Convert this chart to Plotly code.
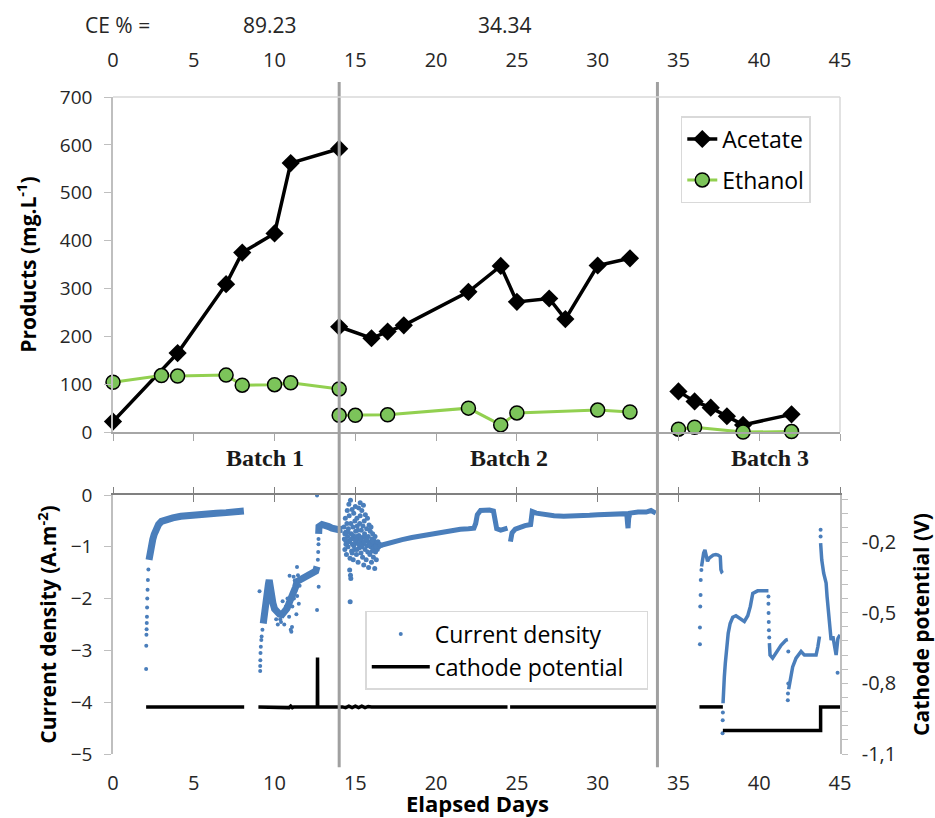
import plotly.graph_objects as go

# ---------------- data : products (top panel) ----------------
ac_day = [0, 4, 7, 8, 10, 11, 14, None, 14, 16, 17, 18, 22, 24, 25, 27, 28, 30, 32, None, 35, 36, 37, 38, 39, 42]
ac_val = [22, 165, 309, 375, 415, 562, 592, None, 220, 196, 210, 223, 293, 347, 272, 279, 236, 348, 363, None, 85, 64, 51, 33, 15, 37]
et_day = [0, 3, 4, 7, 8, 10, 11, 14, None, 14, 15, 17, 22, 24, 25, 30, 32, None, 35, 36, 39, 42]
et_val = [104, 118, 117, 119, 98, 99, 103, 90, None, 35, 35, 36, 50, 15, 40, 46, 42, None, 6, 10, 0, 1]

# ---------------- data : current density (bottom panel) ----------------
# dense band, batch 1
cd1_day = [2.23, 2.28, 2.34, 2.40, 2.46, 2.55, 2.67, 2.82, 3.0, 3.3, 3.7, 4.2, 4.7, 5.2, 5.8, 6.4, 7.0, 7.6, 8.1, None,
           9.3, 9.36, 9.42, 9.53, 9.62, 9.67, 9.73, 9.82, 9.9, 10.0, 10.15, 10.3, 10.46, 10.6, 10.77, 10.97, 11.18, 11.3,
           11.39, 11.6, 11.8, 12.0, 12.21, 12.4, 12.55, 12.63, None,
           12.73, 12.75, 12.94, 13.15, 13.35, 13.55, 13.76, 13.97, 14.2]
cd1_val = [-1.25, -1.13, -1.03, -0.94, -0.86, -0.76, -0.66, -0.57, -0.51, -0.47, -0.44, -0.41, -0.39, -0.37, -0.36, -0.35, -0.34, -0.33, -0.31, None,
           -2.48, -2.28, -2.09, -1.90, -1.72, -1.64, -1.80, -1.98, -2.09, -2.20, -2.28, -2.30, -2.31, -2.27, -2.19, -2.03, -1.90, -1.78,
           -1.67, -1.64, -1.61, -1.58, -1.54, -1.50, -1.47, -1.38, None,
           -0.75, -0.61, -0.57, -0.58, -0.61, -0.64, -0.67, -0.67, -0.66]
# dense band, batch 2
cd2_day = [16.6, 17.0, 17.5, 17.9, 18.5, 19.0, 19.34, 20.0, 20.5, 21.0, 21.5, 22.0, 22.34, 22.45, 22.55, 22.75, 23.0, 23.3,
           23.55, 23.65, 23.75, 24.0, 24.2, 24.42, None,
           24.6, 24.62, 24.7, 24.9, 25.2, 25.5, 25.85, 25.9, 25.95, 26.2, 26.7, 27.3, 27.9, 28.5, 29.0, 29.5, 30.0, 30.5,
           31.0, 31.5, 31.8, 31.85, 31.88, 31.92, 32.0, 32.5, 33.0, 33.3, 33.6]
cd2_val = [-0.97, -0.93, -0.89, -0.86, -0.82, -0.79, -0.77, -0.73, -0.70, -0.67, -0.66, -0.65, -0.64, -0.55, -0.38, -0.30, -0.29, -0.29,
           -0.31, -0.50, -0.65, -0.68, -0.66, -0.64, None,
           -0.90, -0.82, -0.73, -0.66, -0.62, -0.59, -0.57, -0.40, -0.32, -0.35, -0.38, -0.40, -0.41, -0.41, -0.40, -0.39, -0.38, -0.37,
           -0.36, -0.35, -0.36, -0.55, -0.64, -0.45, -0.35, -0.33, -0.33, -0.30, -0.35]
# dense band, batch 3
cd3_day = [36.43, 36.5, 36.56, 36.64, 36.72, 36.8, 36.9, 37.0, 37.15, 37.32, 37.45, 37.59, 37.61, 37.63, 37.7, 37.73, None,
           37.76, 37.78, 37.84, 37.9, 37.98, 38.08, 38.2, 38.36, 38.56, 38.77, 39.08, 39.29, 39.45, 39.6, 39.9, 40.2, 40.57, None,
           40.63, 40.67, 40.83, 41.04, 41.35, 41.66, 41.77, None,
           41.82, 41.97, 42.07, 42.28, 42.59, 42.8, 43.1, 43.52, 43.63, 43.73, None,
           43.8, 43.87, 43.99, 44.14, 44.2, 44.28, 44.35, 44.45, 44.56, 44.66, 44.76, 44.87, 45.0]
cd3_val = [-1.38, -1.20, -1.12, -1.06, -1.15, -1.28, -1.22, -1.19, -1.16, -1.15, -1.16, -1.19, -1.35, -1.44, -1.50, -1.51, None,
           -4.02, -3.77, -3.51, -3.25, -2.93, -2.67, -2.48, -2.36, -2.33, -2.38, -2.44, -2.33, -2.15, -1.90, -1.85, -1.85, -1.85, None,
           -2.86, -3.09, -3.15, -3.06, -2.90, -2.80, -2.79, None,
           -3.75, -3.51, -3.32, -3.15, -3.02, -3.09, -3.09, -3.09, -2.93, -2.73, None,
           -0.93, -1.25, -1.51, -1.70, -1.96, -2.28, -2.61, -2.80, -2.73, -2.93, -3.09, -2.77, -2.70]
# sparse / isolated logger points
cd_dot_day = [2.05, 2.06, 2.07, 2.08, 2.09, 2.10, 2.11, 2.12, 2.14, 2.16, 2.19,
              9.07, 9.11, 9.11, 9.12, 9.13, 9.15, 9.18, 9.20, 9.25,
              12.63, 12.63, 12.73, 12.68, 12.70, 12.72, 12.72,
              10.93, 11.18, 11.39, 11.04, 11.08, 10.2, 10.4, 10.6, 10.9, 11.0, 11.1, 11.2, 10.8, 11.3, 11.4, 11.5, 11.55,
              10.7, 10.5, 11.35, 11.45, 11.25, 10.1, 10.35,
              36.33, 36.33, 36.35, 36.37, 36.38, 36.42,
              37.73, 37.74, 37.75,
              40.57, 40.57, 40.58, 40.59, 40.60, 40.62, 41.80,
              41.77, 41.78, 41.80,
              43.80, 43.80, 44.85]
cd_dot_val = [-3.36, -2.91, -2.70, -2.59, -2.47, -2.35, -2.17, -2.00, -1.83, -1.64, -1.44,
              -1.86, -3.40, -3.30, -3.19, -3.05, -2.93, -2.80, -2.73, -2.60,
              -0.01, -2.22, -1.77, -1.25, -1.10, -0.95, -0.85,
              -1.56, -1.58, -1.39, -2.64, -2.55, -2.50, -2.45, -2.50, -2.35, -2.60, -2.15, -2.00, -2.00, -1.85, -1.95, -2.10, -1.75,
              -2.15, -2.05, -2.30, -1.55, -1.65, -2.40, -2.40,
              -2.88, -2.56, -2.15, -1.93, -1.64, -1.45,
              -4.60, -4.35, -4.20,
              -1.96, -2.10, -2.28, -2.45, -2.61, -2.75, -3.02,
              -3.96, -3.83, -3.64,
              -0.67, -0.80, -3.43]
# scatter cloud at the start of batch 2
cd_cloud_day = [14.30, 14.32, 14.35, 14.38, 14.40, 14.42, 14.45, 14.48, 14.50, 14.52, 14.55, 14.57, 14.60, 14.62, 14.65,
                14.67, 14.70, 14.72, 14.75, 14.77, 14.80, 14.82, 14.85, 14.87, 14.90, 14.92, 14.95, 14.97, 15.00, 15.02,
                15.05, 15.07, 15.10, 15.12, 15.15, 15.17, 15.20, 15.22, 15.25, 15.27, 15.30, 15.32, 15.35, 15.37, 15.40,
                15.42, 15.45, 15.47, 15.50, 15.52, 15.55, 15.57, 15.60, 15.62, 15.65, 15.67, 15.70, 15.72, 15.75, 15.77,
                15.80, 15.82, 15.85, 15.87, 15.90, 15.92, 15.95, 15.97, 16.00, 16.02, 16.05, 16.07, 16.10, 16.12, 16.15,
                16.17, 16.20, 16.22, 16.25, 16.28, 16.30, 16.33, 16.36, 16.40, 16.45, 16.50, 16.55,
                14.65, 14.70, 14.72, 14.68, 15.30, 15.50, 14.40, 14.55, 14.85, 15.05, 15.15, 15.35, 15.60, 15.80,
                14.45, 14.60, 14.75, 14.90, 15.00, 15.20, 15.40, 15.55, 15.70, 15.90, 16.05, 16.25, 14.35, 14.80, 15.10]
cd_cloud_val = [-0.62, -0.85, -1.05, -0.45, -0.72, -0.95, -1.15, -0.55, -0.30, -0.80, -1.00, -0.65, -0.18, -0.40, -0.88,
                -1.22, -0.10, -0.55, -0.75, -1.08, -0.28, -0.95, -0.62, -1.25, -0.35, -0.82, -1.05, -0.50, -0.22, -0.70,
                -0.92, -1.15, -0.45, -0.60, -0.85, -1.30, -0.25, -0.78, -1.02, -0.55, -0.40, -0.90, -1.12, -0.68, -0.30,
                -0.82, -1.20, -0.60, -0.95, -1.35, -0.50, -0.75, -1.05, -0.38, -0.88, -1.25, -0.65, -0.98, -0.45, -1.10,
                -0.80, -1.40, -0.58, -0.92, -1.15, -0.70, -1.00, -0.62, -1.30, -0.85, -1.08, -0.75, -0.95, -1.20, -0.88,
                -1.02, -1.42, -0.80, -1.10, -0.92, -1.25, -0.98, -1.05, -0.90, -1.00, -0.95, -0.98,
                -1.45, -1.55, -1.61, -2.06, -0.15, -0.20, -0.88, -0.72, -0.78, -0.80, -0.68, -0.85, -0.80, -0.90,
                -0.95, -0.90, -0.85, -0.98, -0.88, -0.95, -1.00, -0.90, -0.85, -0.95, -0.90, -1.00, -0.75, -1.12, -1.05]

# ---------------- data : cathode potential (right axis) ----------------
cat_day = [2.05, 8.12, None, 9.0, 10.8, 10.9, 11.0, 11.1, 11.2, 12.64, 12.65, 12.66, 12.67, 14.2, 14.4, 14.6, 14.8, 15.0,
           15.2, 15.4, 15.6, 15.8, 16.0, 24.42, None, 24.58, 33.7, None, 36.3, 37.75, None, 37.75, 43.8, 43.8, 45.0]
cat_val = [-0.9, -0.9, None, -0.9, -0.9, -0.903, -0.897, -0.903, -0.9, -0.9, -0.9, -0.69, -0.9, -0.9, -0.903, -0.897,
           -0.903, -0.897, -0.903, -0.897, -0.903, -0.898, -0.9, -0.9, None, -0.9, -0.9, None, -0.9, -0.9, None, -1.0, -1.0,
           -0.9, -0.9]

# ---------------- ticks / labels ----------------
day_ticks = [0, 5, 10, 15, 20, 25, 30, 35, 40, 45]
prod_ticks = [0, 100, 200, 300, 400, 500, 600, 700]
cd_ticks = [0, -1, -2, -3, -4, -5]
pot_tickvals = [round(-1.1 + 0.06 * k, 2) for k in range(19)]
pot_labels = {-1.1: '-1,1', -0.8: '-0,8', -0.5: '-0,5', -0.2: '-0,2'}
pot_ticktext = [pot_labels.get(v, '') for v in pot_tickvals]
ce_labels = ['CE % =', '89.23', '34.34']
batch_labels = ['Batch 1', 'Batch 2', 'Batch 3']
batch_split = [14, 33.7]

BLUE = '#4a7ebb'
GREEN_LINE = '#92d050'
GREEN_FILL = '#7cc45a'
FONT = 'Open Sans'

fig = go.Figure()

# top panel
fig.add_trace(go.Scatter(x=ac_day, y=ac_val, name='Acetate', mode='lines+markers',
                         line=dict(color='black', width=3.5),
                         marker=dict(symbol='diamond', size=14, color='black'),
                         xaxis='x', yaxis='y', legend='legend', legendgroup='a', cliponaxis=False))
fig.add_trace(go.Scatter(x=et_day, y=et_val, name='Ethanol', mode='lines+markers',
                         line=dict(color=GREEN_LINE, width=3),
                         marker=dict(symbol='circle', size=14, color=GREEN_FILL, line=dict(color='black', width=1.5)),
                         xaxis='x', yaxis='y', legend='legend', legendgroup='e', cliponaxis=False))

# bottom panel: current density
for dd, vv, w in [(cd1_day, cd1_val, 7), (cd2_day, cd2_val, 5), (cd3_day, cd3_val, 3.5)]:
    fig.add_trace(go.Scatter(x=dd, y=vv, mode='lines', line=dict(color=BLUE, width=w),
                             showlegend=False, xaxis='x2', yaxis='y2', hoverinfo='skip'))
fig.add_trace(go.Scatter(x=cd_cloud_day, y=cd_cloud_val, mode='markers', marker=dict(color=BLUE, size=5),
                         showlegend=False, xaxis='x2', yaxis='y2'))
fig.add_trace(go.Scatter(x=cd_dot_day, y=cd_dot_val, mode='markers', name='Current density',
                         marker=dict(color=BLUE, size=4), xaxis='x2', yaxis='y2',
                         legend='legend2', legendgroup='c'))
fig.add_trace(go.Scatter(x=cat_day, y=cat_val, mode='lines', name='cathode potential\u00a0\u00a0\u00a0',
                         line=dict(color='black', width=3.5), xaxis='x2', yaxis='y3',
                         legend='legend2', legendgroup='p'))

# invisible anchor traces so the decorative overlay axes get drawn
for xa, ya in [('x3', 'y'), ('x4', 'y2'), ('x5', 'y2')]:
    fig.add_trace(go.Scatter(x=[0], y=[0 if ya == 'y' else -5], mode='markers', marker=dict(opacity=0),
                             showlegend=False, hoverinfo='skip', xaxis=xa, yaxis=ya))

TOP_DOM = [0.490, 1.0]
BOT_DOM = [0.0, 0.3942]
xtickfont = dict(family=FONT, size=20, color='#262626')
ytickfont = dict(family=FONT, size=19, color='#262626')
rtickfont = dict(family=FONT, size=20, color='#262626')
titlefont = dict(family=FONT, size=21, color='black')

common_x = dict(range=[0, 45], tickvals=day_ticks, showgrid=False, zeroline=False)

fig.update_layout(
    width=935, height=818,
    margin=dict(l=113, r=95, t=97, b=64, autoexpand=False),
    plot_bgcolor='white', paper_bgcolor='white',
    font=dict(family=FONT, size=18, color='#262626'),
    # top panel: labels on top, line + ticks at the bottom (overlay x3)
    xaxis=dict(domain=[0, 1], anchor='y', side='top', showline=False, ticks='', showticklabels=True,
               ticklabelstandoff=25, tickfont=xtickfont, **common_x),
    xaxis3=dict(overlaying='x', anchor='y', side='bottom', showline=True, linecolor='#a6a6a6', linewidth=1.5,
                ticks='outside', ticklen=7, tickcolor='#a6a6a6', showticklabels=False, **common_x),
    yaxis=dict(domain=TOP_DOM, anchor='x', range=[0, 700], tickvals=prod_ticks, showgrid=False, zeroline=False,
               showline=True, linecolor='#bfbfbf', linewidth=1.5, ticks='outside', ticklen=7, tickcolor='#bfbfbf',
               tickfont=ytickfont, ticklabelstandoff=8,
               title=dict(text='<b>Products (mg.L<sup>-1</sup>)</b>', font=titlefont, standoff=18)),
    # bottom panel: labels at the bottom, axis line with crossing ticks at y = 0 (top)
    xaxis2=dict(domain=[0, 1], anchor='y2', side='bottom', showline=False, ticks='', showticklabels=True,
                ticklabelstandoff=15, tickfont=xtickfont, **common_x),
    xaxis4=dict(overlaying='x2', anchor='y2', side='top', showline=True, linecolor='#808080', linewidth=1.5,
                ticks='outside', ticklen=6, tickcolor='#808080', showticklabels=False, **common_x),
    xaxis5=dict(overlaying='x2', anchor='y2', side='top', showline=False,
                ticks='inside', ticklen=7, tickcolor='#808080', showticklabels=False, **common_x),
    yaxis2=dict(domain=BOT_DOM, anchor='x2', range=[-5, 0], tickvals=cd_ticks, showgrid=False, zeroline=False,
                showline=True, linecolor='#bfbfbf', linewidth=1.5, ticks='outside', ticklen=7, tickcolor='#bfbfbf',
                tickfont=ytickfont, ticklabelstandoff=8,
                title=dict(text='<b>Current density (A.m<sup>-2</sup>)</b>', font=titlefont, standoff=8)),
    yaxis3=dict(overlaying='y2', anchor='x2', side='right', range=[-1.1, 0.0], tickvals=pot_tickvals,
                ticktext=pot_ticktext, showgrid=False, zeroline=False, showline=True, linecolor='#bfbfbf',
                linewidth=1.5, ticks='outside', ticklen=6, tickcolor='#bfbfbf', tickfont=rtickfont,
                ticklabelstandoff=10,
                title=dict(text='<b>Cathode potential (V)</b>', font=titlefont, standoff=20)),
    legend=dict(x=0.781, y=0.971, xanchor='left', yanchor='top', bgcolor='white', bordercolor='#d9d9d9',
                borderwidth=1.5, font=dict(family=FONT, size=23, color='black'), traceorder='grouped',
                tracegroupgap=8),
    legend2=dict(x=0.347, y=0.2177, xanchor='left', yanchor='top', bgcolor='white', bordercolor='#d9d9d9',
                 borderwidth=1.5, font=dict(family=FONT, size=23, color='black'), traceorder='grouped',
                 tracegroupgap=0, itemwidth=58),
    showlegend=True,
)

# batch separators and top-panel frame
shapes = []
for xs in batch_split:
    shapes.append(dict(type='line', xref='x', yref='paper', x0=xs, x1=xs, y0=-0.02, y1=1.023,
                       line=dict(color='#a0a0a0', width=3), layer='above'))
shapes.append(dict(type='line', xref='x domain', yref='y domain', x0=0, x1=1, y0=1, y1=1,
                   line=dict(color='#d9d9d9', width=1.5)))
shapes.append(dict(type='line', xref='x domain', yref='y domain', x0=1, x1=1, y0=0, y1=1,
                   line=dict(color='#d9d9d9', width=1.5)))
fig.update_layout(shapes=shapes)

annotations = []
for txt, xp in zip(ce_labels, [0.006, 0.216, 0.539]):
    annotations.append(dict(text=txt, xref='paper', yref='paper', x=xp, y=1.1096, xanchor='center',
                            yanchor='middle', showarrow=False, font=dict(family=FONT, size=21, color='#262626')))
for txt, xp in zip(batch_labels, [0.209, 0.545, 0.904]):
    annotations.append(dict(text='<b>' + txt + '</b>', xref='paper', yref='paper', x=xp, y=0.4505,
                            xanchor='center', yanchor='middle', showarrow=False,
                            font=dict(family='Liberation Serif', size=24, color='#1a1a1a')))
annotations.append(dict(text='<b>Elapsed Days</b>', xref='paper', yref='paper', x=0.502, y=-0.0746,
                        xanchor='center', yanchor='middle', showarrow=False,
                        font=dict(family=FONT, size=22, color='black')))
fig.update_layout(annotations=annotations)

fig.write_html("out.html", config={'displayModeBar': False},
               post_script="document.body.style.margin='0';")
